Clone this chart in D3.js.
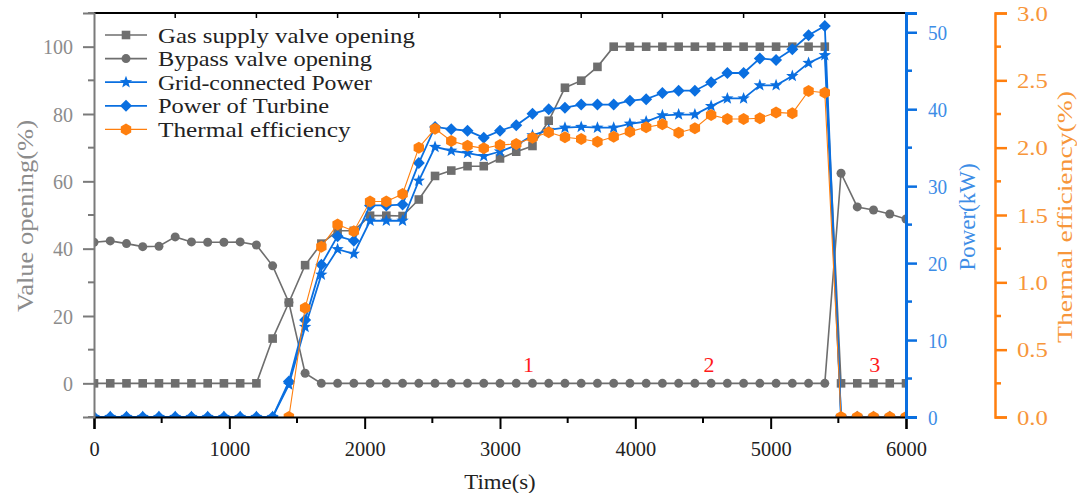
<!DOCTYPE html>
<html><head><meta charset="utf-8">
<script src="https://cdn.jsdelivr.net/npm/d3@7"></script>
<style>body{margin:0;background:#fff}</style>
</head><body><svg id="c" width="1077" height="493"></svg>
<script>
const times = [0,120,240,360,480,600,720,840,960,1080,1200,1320,1440,1560,1680,1800,1920,2040,2160,2280,2400,2520,2640,2760,2880,3000,3120,3240,3360,3480,3600,3720,3840,3960,4080,4200,4320,4440,4560,4680,4800,4920,5040,5160,5280,5400,5520,5640,5760,5880,6000];
const gasSupply = [0,0,0,0,0,0,0,0,0,0,0,13.3,24.0,35.1,41.5,45.3,45.3,49.8,49.8,49.7,54.6,61.6,63.2,64.5,64.5,66.8,68.8,70.5,78.0,87.8,89.9,94.0,100,100,100,100,100,100,100,100,100,100,100,100,100,100,0,0,0,0,0];
const bypass = [41.9,42.3,41.5,40.6,40.7,43.5,42.0,41.9,41.9,42.0,41.1,34.9,24.0,3.0,0,0,0,0,0,0,0,0,0,0,0,0,0,0,0,0,0,0,0,0,0,0,0,0,0,0,0,0,0,0,0,0,62.4,52.4,51.5,50.3,48.8];
const gridPower = [0,0,0,0,0,0,0,0,0,0,0,0,4.2,11.7,18.5,21.8,21.2,25.5,25.5,25.5,30.7,35.1,34.6,34.3,33.9,34.5,35.3,36.6,37.3,37.6,37.7,37.6,37.6,38.1,38.4,39.2,39.3,39.3,40.4,41.4,41.4,43.1,43.1,44.3,46.0,47.0,0,0,0,0,0];
const turbinePower = [0,0,0,0,0,0,0,0,0,0,0,0,4.6,12.6,19.8,23.5,22.9,27.5,27.5,27.6,33.0,37.7,37.4,37.2,36.3,37.2,37.9,39.4,40.0,40.2,40.6,40.6,40.6,41.1,41.3,42.1,42.4,42.4,43.5,44.7,44.7,46.6,46.4,47.8,49.6,50.8,0,0,0,0,0];
const thermalEff = [null,null,null,null,null,null,null,null,null,null,null,null,0.0,0.81,1.265,1.43,1.38,1.60,1.60,1.656,2.00,2.14,2.05,2.015,1.995,2.02,2.027,2.074,2.114,2.077,2.064,2.044,2.081,2.119,2.151,2.173,2.111,2.144,2.243,2.213,2.213,2.218,2.262,2.255,2.421,2.408,0,0,0,0,0];
const xTicks = [0,1000,2000,3000,4000,5000,6000];
const xMinorTicks = [500,1500,2500,3500,4500,5500];
const topTicks = [600,1200,1800,2400,3000,3600,4200,4800,5400];
const leftTicks = [0,20,40,60,80,100];
const leftMinor = [-10,10,30,50,70,90,110];
const powerTicks = [0,10,20,30,40,50];
const powerMinor = [5,15,25,35,45];
const effTicks = [0,0.5,1.0,1.5,2.0,2.5,3.0];
const effMinor = [0.25,0.75,1.25,1.75,2.25,2.75];
const seriesNames = ["Gas supply valve opening","Bypass valve opening","Grid-connected Power","Power of Turbine","Thermal efficiency"];
const stageLabels = ["1","2","3"];
const stageTimes = [3210,4545,5770];
const stageValue = 5.5;

const W=1077,H=493;
const L=94,R=906,T=13,B=417;
const GRAY="#6e6e6e", BLUE="#0a6fe0", ORANGE="#ff7f0e";
const FONT="'Liberation Serif', 'Times New Roman', serif";
const svg=d3.select("#c");

const x=d3.scaleLinear().domain([0,6000]).range([L,R]);
const yL=d3.scaleLinear().domain([-10,110]).range([B,T]);
const yP=d3.scaleLinear().domain([0,52.5]).range([B,T]);
const yE=d3.scaleLinear().domain([0,3]).range([B,T]);

function squeeze(sel,per){sel.each(function(){const n=this.textContent.length;this.setAttribute("textLength",n*per);this.setAttribute("lengthAdjust","spacingAndGlyphs");});}

svg.append("clipPath").attr("id","clip").append("rect").attr("x",L).attr("y",T).attr("width",R-L).attr("height",B-T);

const shapes={
  square:r=>`M${-r},${-r}h${2*r}v${2*r}h${-2*r}Z`,
  circle:r=>`M${r},0A${r},${r} 0 1,1 ${-r},0A${r},${r} 0 1,1 ${r},0Z`,
  diamond:r=>`M0,${-r}L${r},0L0,${r}L${-r},0Z`,
  hexagon:r=>{let p=[];for(let i=0;i<6;i++){const a=Math.PI/3*i-Math.PI/2;p.push([r*Math.cos(a),r*Math.sin(a)]);}return "M"+p.map(q=>q[0].toFixed(2)+","+q[1].toFixed(2)).join("L")+"Z";},
  star:r=>{let p=[];const ri=r*0.42;for(let i=0;i<10;i++){const a=Math.PI/5*i-Math.PI/2;const rr=i%2?ri:r;p.push([rr*Math.cos(a),rr*Math.sin(a)]);}return "M"+p.map(q=>q[0].toFixed(2)+","+q[1].toFixed(2)).join("L")+"Z";}
};

const series=[
 {name:seriesNames[0],vals:gasSupply,y:yL,color:GRAY,w:1.6,shape:"square",r:4.3},
 {name:seriesNames[1],vals:bypass,y:yL,color:GRAY,w:1.6,shape:"circle",r:4.5},
 {name:seriesNames[2],vals:gridPower,y:yP,color:BLUE,w:1.8,shape:"star",r:6.5},
 {name:seriesNames[3],vals:turbinePower,y:yP,color:BLUE,w:1.8,shape:"diamond",r:6},
 {name:seriesNames[4],vals:thermalEff,y:yE,color:ORANGE,w:1.1,shape:"hexagon",r:6}
];

const plot=svg.append("g").attr("clip-path","url(#clip)");
series.forEach(s=>{
  const pts=times.map((t,i)=>({t,v:s.vals[i]}));
  const line=d3.line().defined(d=>d.v!=null).x(d=>x(d.t)).y(d=>s.y(d.v));
  const g=plot.append("g");
  g.append("path").attr("d",line(pts)).attr("fill","none").attr("stroke",s.color).attr("stroke-width",s.w);
  g.selectAll("path.m").data(pts.filter(d=>d.v!=null)).join("path").attr("class","m")
   .attr("d",shapes[s.shape](s.r)).attr("transform",d=>`translate(${x(d.t)},${s.y(d.v)})`).attr("fill",s.color);
});

svg.append("line").attr("x1",L).attr("x2",R).attr("y1",T).attr("y2",T).attr("stroke","#000").attr("stroke-width",2);
svg.append("g").selectAll("line").data(topTicks).join("line").attr("x1",d=>x(d)).attr("x2",d=>x(d)).attr("y1",T).attr("y2",T+5).attr("stroke","#000").attr("stroke-width",1.5);

const gx=svg.append("g").attr("transform",`translate(0,${B})`);
gx.call(d3.axisBottom(x).tickValues(xTicks).tickSize(12).tickFormat(d3.format("d")).tickPadding(14));
gx.select(".domain").attr("stroke","#000").attr("stroke-width",2.2);
gx.selectAll(".tick line").attr("stroke","#000").attr("stroke-width",2);
gx.selectAll(".tick text").attr("font-family",FONT).attr("font-size",22).attr("fill","#222").attr("dy","0.6em");
squeeze(gx.selectAll(".tick text"),10.2);
gx.append("g").selectAll("line").data(xMinorTicks).join("line").attr("x1",d=>x(d)).attr("x2",d=>x(d)).attr("y1",0).attr("y2",6).attr("stroke","#000").attr("stroke-width",2);

const LG="#8c8c8c";
const gl=svg.append("g").attr("transform",`translate(${L},0)`);
gl.call(d3.axisLeft(yL).tickValues(leftTicks).tickSize(11).tickPadding(10));
gl.select(".domain").attr("stroke","#7a7a7a").attr("stroke-width",2);
gl.selectAll(".tick line").attr("stroke","#7a7a7a").attr("stroke-width",2);
gl.selectAll(".tick text").attr("font-family",FONT).attr("font-size",22).attr("fill",LG);
squeeze(gl.selectAll(".tick text"),10);
gl.append("g").selectAll("line").data(leftMinor).join("line").attr("x1",-6).attr("x2",0).attr("y1",d=>yL(d)).attr("y2",d=>yL(d)).attr("stroke","#7a7a7a").attr("stroke-width",2);

const PB="#3d8de6";
const gp=svg.append("g").attr("transform",`translate(${R},0)`);
gp.call(d3.axisRight(yP).tickValues(powerTicks).tickSize(11).tickPadding(11));
gp.select(".domain").attr("stroke",BLUE).attr("stroke-width",3);
gp.selectAll(".tick line").attr("stroke",BLUE).attr("stroke-width",2.5);
gp.selectAll(".tick text").attr("font-family",FONT).attr("font-size",22).attr("fill",PB);
squeeze(gp.selectAll(".tick text"),9.6);
gp.append("g").selectAll("line").data(powerMinor).join("line").attr("x1",0).attr("x2",6).attr("y1",d=>yP(d)).attr("y2",d=>yP(d)).attr("stroke",BLUE).attr("stroke-width",2.5);

const EX=995, OT="#f7963a";
const ge=svg.append("g").attr("transform",`translate(${EX},0)`);
ge.call(d3.axisRight(yE).tickValues(effTicks).tickSize(12).tickPadding(10).tickFormat(d3.format(".1f")));
ge.select(".domain").attr("stroke",ORANGE).attr("stroke-width",2.5);
ge.selectAll(".tick line").attr("stroke",ORANGE).attr("stroke-width",2.5);
ge.selectAll(".tick text").attr("font-family",FONT).attr("font-size",22).attr("fill",OT);
squeeze(ge.selectAll(".tick text"),10.3);
ge.append("g").selectAll("line").data(effMinor).join("line").attr("x1",0).attr("x2",6).attr("y1",d=>yE(d)).attr("y2",d=>yE(d)).attr("stroke",ORANGE).attr("stroke-width",2.5);

function title(txt,xx,yy,rot,color,fs,per){
  const t=svg.append("text").attr("transform",`translate(${xx},${yy}) rotate(${rot})`).attr("text-anchor","middle").attr("dominant-baseline","central")
    .attr("font-family",FONT).attr("font-size",fs).attr("fill",color).text(txt);
  squeeze(t,per);
}
title("Value opening(%)",25,216,-90,LG,23,12);
title("Power(kW)",967,217,-90,PB,23,11.9);
title("Thermal efficiency(%)",1064,217,-90,OT,22,12);
title("Time(s)",500,481,0,"#222",22,10.2);

svg.append("g").selectAll("text").data(stageLabels).join("text")
  .attr("x",(d,i)=>x(stageTimes[i])).attr("y",yL(stageValue)).attr("text-anchor","middle").attr("dominant-baseline","central")
  .attr("font-family",FONT).attr("font-size",22).attr("fill","#ff1a1a").text(d=>d);

const lg=svg.append("g");
series.forEach((s,i)=>{
  const yy=35+i*23.6;
  lg.append("line").attr("x1",105).attr("x2",147).attr("y1",yy).attr("y2",yy).attr("stroke",s.color).attr("stroke-width",s.w);
  lg.append("path").attr("d",shapes[s.shape](s.r)).attr("transform",`translate(126,${yy})`).attr("fill",s.color);
  const t=lg.append("text").attr("x",158).attr("y",yy).attr("dominant-baseline","central").attr("font-family",FONT).attr("font-size",22).attr("fill","#222").text(s.name);
  squeeze(t,10.7);
});
</script></body></html>
